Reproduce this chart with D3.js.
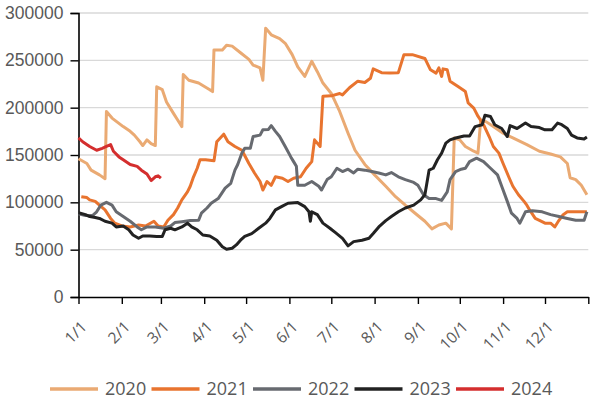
<!DOCTYPE html>
<html><head><meta charset="utf-8">
<script src="https://cdn.jsdelivr.net/npm/d3@7"></script>
<style>
html,body{margin:0;padding:0;background:#fff;}
svg{display:block;}
</style></head>
<body>
<svg id="chart" width="590" height="403"></svg>
<script>
// ---------------- DATA ----------------
const seriesNames = ["2020", "2021", "2022", "2023", "2024"];
const monthLabels = ["1/1","2/1","3/1","4/1","5/1","6/1","7/1","8/1","9/1","10/1","11/1","12/1"];
const yTickValues = [0, 50000, 100000, 150000, 200000, 250000, 300000];

const dates2020 = ["1/1","1/7","1/10","1/16","1/20","1/21","1/25","2/2","2/7","2/10","2/14","2/16","2/19","2/22","2/25","2/26","3/2","3/5","3/10","3/13","3/16","3/17","3/21","3/28","4/5","4/7","4/8","4/14","4/17","4/21","4/27","5/3","5/6","5/11","5/13","5/15","5/19","5/25","5/29","6/3","6/7","6/12","6/17","6/21","6/25","7/1","7/7","7/13","7/18","7/25","8/1","8/9","8/16","8/23","8/30","9/6","9/11","9/16","9/21","9/25","9/27","10/1","10/5","10/11","10/14","10/16","10/20","10/25","11/1","11/8","11/18","11/27","12/5","12/12","12/17","12/19","12/23","12/27","12/31"];
const values2020 = [146000,141000,134000,129000,125000,196000,189000,180000,175000,171000,164000,160000,166000,162000,160000,222000,219000,206000,194000,187000,180000,235000,229000,226000,219000,217000,261000,261000,266000,265000,258000,251000,245000,242000,229000,284000,277000,273000,268000,256000,243000,233000,249000,238000,226000,215000,196000,173000,155000,140000,129000,117000,106000,97000,88500,80000,72000,76000,78000,72000,168000,166000,159000,154000,152000,187000,185000,180000,173000,168000,161000,154000,151000,148000,141000,126000,124000,118000,108000];

const dates2021 = ["1/3","1/7","1/9","1/13","1/16","1/20","1/24","1/27","2/1","2/7","2/13","2/18","2/24","2/27","3/3","3/6","3/10","3/13","3/16","3/20","3/22","3/24","3/27","3/29","4/2","4/8","4/10","4/15","4/18","4/23","4/28","5/3","5/7","5/11","5/13","5/16","5/19","5/22","5/27","5/31","6/4","6/9","6/13","6/17","6/19","6/23","6/25","7/1","7/7","7/9","7/14","7/20","7/25","7/29","7/31","8/6","8/12","8/18","8/22","8/28","9/6","9/10","9/14","9/16","9/18","9/19","9/22","9/24","9/30","10/5","10/7","10/11","10/14","10/18","10/22","10/25","10/29","11/1","11/5","11/8","11/12","11/16","11/18","11/20","11/24","11/27","12/1","12/5","12/8","12/11","12/14","12/17","12/24","12/31"];
const values2021 = [106000,105000,102600,101000,97000,92000,83000,78000,75000,74000,76000,75000,80000,75000,74000,81000,87000,94000,102600,111000,117000,125500,136000,145000,145000,144000,164000,172000,164000,159000,155000,141000,131000,122000,113000,122000,118000,127000,125500,122000,125500,127000,136000,143000,166000,159000,212000,212500,215000,213500,221000,228000,226600,231000,241000,237000,236500,237000,256000,256000,252000,240000,236500,242000,233000,241000,240000,228000,222000,217000,205000,199500,191000,182000,169500,159000,152000,141000,127000,117000,108000,101000,97000,92000,83000,81000,78000,78000,74000,81000,87000,90000,90000,90000];

const dates2022 = ["1/1","1/6","1/11","1/14","1/17","1/21","1/25","1/28","2/2","2/7","2/12","2/15","2/19","2/25","3/3","3/8","3/11","3/16","3/22","3/28","3/30","4/3","4/6","4/11","4/16","4/20","4/23","4/25","4/28","4/30","5/4","5/6","5/11","5/13","5/17","5/19","5/22","5/25","5/29","6/2","6/4","6/6","6/7","6/12","6/17","6/22","6/24","6/28","7/1","7/5","7/9","7/13","7/17","7/20","7/25","7/30","8/4","8/9","8/13","8/18","8/23","8/29","9/1","9/5","9/9","9/14","9/18","9/22","9/24","9/28","10/2","10/5","10/8","10/13","10/18","10/23","10/28","10/31","11/4","11/7","11/11","11/13","11/17","11/22","11/29","12/5","12/11","12/17","12/23","12/29","12/31"];
const values2022 = [88000,86000,86000,90000,97000,100000,97000,90000,85000,80000,74000,71000,74000,74000,72600,75000,78600,79600,80700,81000,88500,94000,99000,104000,115000,120000,134000,140000,152000,157000,157000,169500,171000,176600,177000,181000,175000,169500,159000,148000,143000,138000,118000,118000,122000,117000,113000,124000,127000,136000,132500,135000,131000,135000,134000,132500,131000,129000,131500,127000,124000,121000,118000,108000,104000,104000,102000,111000,124000,132500,135000,136000,143000,146600,143000,136000,129000,117000,101000,88500,83000,78000,90000,91000,90000,87000,85000,83000,81000,81000,90000];

const dates2023 = ["1/1","1/6","1/9","1/13","1/16","1/20","1/25","1/28","2/2","2/6","2/9","2/13","2/16","2/21","2/26","3/2","3/4","3/8","3/11","3/16","3/20","3/23","3/27","3/31","4/5","4/10","4/14","4/17","4/21","4/24","4/27","4/30","5/5","5/10","5/15","5/18","5/22","5/27","5/31","6/7","6/12","6/15","6/16","6/17","6/21","6/25","6/30","7/4","7/9","7/13","7/17","7/23","7/28","7/31","8/4","8/9","8/13","8/18","8/23","8/29","9/3","9/6","9/9","9/12","9/15","9/18","9/21","9/24","9/28","10/4","10/8","10/12","10/17","10/19","10/23","10/26","10/31","11/4","11/6","11/11","11/17","11/21","11/27","12/1","12/6","12/10","12/13","12/17","12/20","12/24","12/29","12/31"];
const values2023 = [89000,87000,85000,84000,83000,80000,78000,74000,75000,71000,65500,62000,64500,64500,64000,64000,71000,72600,71000,74000,78000,74000,71000,65500,64500,60000,53000,50400,51500,55000,60000,64000,67000,72600,78000,83000,92000,96000,99000,99700,95500,90000,80000,90000,87000,78000,72600,68000,62000,54000,58500,60000,62000,67000,74000,80700,85000,90000,94000,97000,102600,108000,134000,136000,145000,152000,162500,166000,168000,170000,170000,180000,182000,192000,190600,182000,178000,169500,181000,178000,183700,180000,179000,176600,176600,183700,182000,178000,171000,168000,167000,169000];

const dates2024 = ["1/1","1/4","1/9","1/14","1/18","1/21","1/24","1/26","1/30","2/2","2/7","2/12","2/15","2/19","2/22","2/25","2/27","3/1"];
const values2024 = [168000,164000,159000,155000,157000,159000,161000,154000,148000,145000,140000,138000,134000,130000,123000,127000,128000,125500];

const seriesDates = [dates2020, dates2021, dates2022, dates2023, dates2024];
const seriesValues = [values2020, values2021, values2022, values2023, values2024];
const seriesColors = ["#EAAA73", "#E8742F", "#676A70", "#222222", "#D42E2E"];

// ---------------- CHART ----------------
const svg = d3.select("#chart");
const BASE_YEAR = 2023;
const parseMD = s => { const [m, d] = s.split("/").map(Number); return new Date(BASE_YEAR, m - 1, d); };

const x = d3.scaleTime()
  .domain([new Date(BASE_YEAR, 0, 1), new Date(BASE_YEAR + 1, 0, 1)])
  .range([78.5, 588.3]);
const y = d3.scaleLinear().domain([0, 300000]).range([297, 13]);

// gridlines
svg.append("g")
  .selectAll("line")
  .data(yTickValues.filter(v => v > 0))
  .join("line")
  .attr("x1", 78.5).attr("x2", 588.3)
  .attr("y1", d => y(d)).attr("y2", d => y(d))
  .attr("stroke", "#d9d9d9").attr("stroke-width", 1.4);

// y axis
const yAxis = svg.append("g")
  .attr("transform", "translate(78.5,0)")
  .call(d3.axisLeft(y).tickValues(yTickValues).tickFormat(d3.format("d")).tickSize(8).tickPadding(7));
yAxis.select(".domain").attr("stroke", "#000").attr("stroke-width", 1.6);
yAxis.selectAll(".tick line").attr("stroke", "#000").attr("stroke-width", 1.4);
yAxis.selectAll("text")
  .attr("fill", "#595959")
  .style("font-family", "'Liberation Sans', Arial, sans-serif")
  .style("font-size", "17.5px");

// x axis
const xTicks = monthLabels.map(parseMD).concat([new Date(BASE_YEAR + 1, 0, 1)]);
const xAxis = svg.append("g")
  .attr("transform", "translate(0,297)")
  .call(d3.axisBottom(x).tickValues(xTicks)
    .tickFormat((d, i) => i < monthLabels.length ? monthLabels[i] : "")
    .tickSize(7).tickSizeOuter(0));
xAxis.select(".domain").attr("stroke", "#000").attr("stroke-width", 1.6);
xAxis.selectAll(".tick line").attr("stroke", "#000").attr("stroke-width", 1.4);
xAxis.selectAll("text")
  .attr("fill", "#595959")
  .style("font-family", "'Open Sans', sans-serif")
  .style("font-size", "15.5px")
  .attr("text-anchor", "end")
  .attr("y", 0).attr("dy", "0.35em")
  .attr("transform", "translate(5,27) rotate(-45)");

// lines
const line = d3.line()
  .x(d => x(d.date))
  .y(d => y(d.value));

seriesNames.forEach((name, i) => {
  const data = seriesDates[i].map((s, j) => ({ date: parseMD(s), value: seriesValues[i][j] }));
  svg.append("path")
    .datum(data)
    .attr("fill", "none")
    .attr("stroke", seriesColors[i])
    .attr("stroke-width", 3)
    .attr("stroke-linejoin", "round")
    .attr("d", line);
});

// legend
const legend = svg.append("g").attr("transform", "translate(50,389)");
seriesNames.forEach((name, i) => {
  const g = legend.append("g").attr("transform", `translate(${i * 101.5},0)`);
  g.append("line").attr("x1", 0).attr("x2", 48).attr("y1", 0).attr("y2", 0)
    .attr("stroke", seriesColors[i]).attr("stroke-width", 3.5);
  g.append("text").attr("x", 55).attr("y", 0).attr("dy", "0.35em")
    .attr("fill", "#595959")
    .style("font-family", "'Open Sans', sans-serif")
    .style("font-size", "18px")
    .text(name);
});
</script>
</body></html>
